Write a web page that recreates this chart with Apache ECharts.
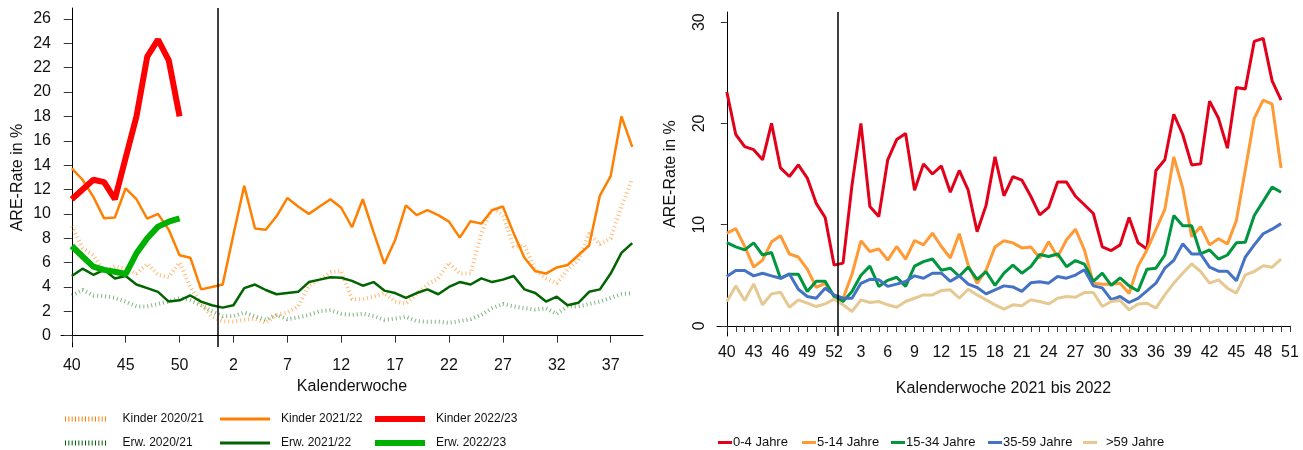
<!DOCTYPE html>
<html>
<head>
<meta charset="utf-8">
<script src="https://cdn.jsdelivr.net/npm/echarts@6/dist/echarts.min.js"></script>
<style>
  html, body { margin: 0; padding: 0; background: #fff; }
  #chart { width: 1303px; height: 450px; }
</style>
</head>
<body>
<div id="chart"></div>
<script>
// ---- Daten: linkes Diagramm (Saison KW 40 bis KW 39, 2020 mit KW 53) ----
var weeksLeft = [40, 41, 42, 43, 44, 45, 46, 47, 48, 49, 50, 51, 52, 53,
  1, 2, 3, 4, 5, 6, 7, 8, 9, 10, 11, 12, 13, 14, 15, 16, 17, 18, 19, 20,
  21, 22, 23, 24, 25, 26, 27, 28, 29, 30, 31, 32, 33, 34, 35, 36, 37, 38, 39];
var leftXLabels = [40, 45, 50, 2, 7, 12, 17, 22, 27, 32, 37];
var leftYLabels = [0, 2, 4, 6, 8, 10, 12, 14, 16, 18, 20, 22, 24, 26];

var kinder2021 = [9.0, 7.2, 6.6, 5.25, 5.7, 5.5, 5.1, 5.9, 5.0, 4.8, 6.0, 4.0, 2.6, 1.55,
  1.2, 1.15, 1.3, 1.4, 1.05, 1.7, 1.9, 2.4, 4.1, 4.6, 5.2,
  5.3, 3.0, 3.0, 3.2, 3.5, 2.8, 2.65, 3.4, 4.2, 4.7,
  6.0, 5.1, 5.1, 8.4, 10.5, 9.9, 7.3, 7.4, 5.4, 4.7,
  4.3, 5.4, 6.2, 8.4, 7.5, 8.0, 10.6, 12.9];
var erw2021 = [3.3, 3.75, 3.3, 3.25, 3.1, 2.8, 2.4, 2.4, 2.6, 2.8, 3.1, 2.9, 2.5, 2.0,
  1.6, 1.6, 1.9, 1.6, 1.3, 1.7, 1.35, 1.5, 1.7, 2.0, 2.1,
  1.8, 1.7, 1.8, 1.6, 1.3, 1.4, 1.55, 1.2, 1.15, 1.15,
  1.05, 1.2, 1.35, 1.7, 2.25, 2.6, 2.4, 2.25, 2.15, 2.25,
  1.8, 2.4, 2.4, 2.6, 2.8, 3.1, 3.4, 3.5];
var kinder2122 = [13.74, 12.8, 11.4, 9.63, 9.7, 12.1, 11.2, 9.6, 10.0, 8.7, 6.6, 6.4, 3.8, 4.0,
  4.2, 8.3, 12.3, 8.8, 8.7, 9.8, 11.3, 10.6, 10.0, 10.6, 11.2,
  10.5, 8.9, 11.2, 8.5, 5.9, 7.85, 10.7, 9.9, 10.3, 9.9,
  9.36, 8.05, 9.4, 9.2, 10.3, 10.6, 8.4, 6.4, 5.3, 5.1,
  5.6, 5.8, 6.6, 7.4, 11.5, 13.1, 18.0, 15.5];
var erw2122 = [4.9, 5.5, 5.0, 5.4, 4.7, 4.9, 4.2, 3.9, 3.6, 2.8, 2.9, 3.3, 2.8, 2.5,
  2.3, 2.5, 3.9, 4.2, 3.75, 3.4, 3.5, 3.6, 4.4, 4.6, 4.8,
  4.75, 4.5, 4.1, 4.4, 3.7, 3.5, 3.1, 3.5, 3.8, 3.4,
  4.0, 4.4, 4.2, 4.7, 4.4, 4.6, 4.9, 3.8, 3.5, 2.8,
  3.2, 2.5, 2.7, 3.6, 3.8, 5.1, 6.8, 7.6];
var kinder2223 = [11.2, 12.0, 12.8, 12.6, 11.2, 14.6, 18.0, 22.9, 24.3, 22.6, 18.0];
var erw2223 = [7.36, 6.5, 5.67, 5.4, 5.25, 5.06, 6.76, 8.0, 8.95, 9.36, 9.63];

// ---- Daten: rechtes Diagramm (KW 40/2021 bis KW 50/2022) ----
var weeksRight = [40, 41, 42, 43, 44, 45, 46, 47, 48, 49, 50, 51, 52,
  1, 2, 3, 4, 5, 6, 7, 8, 9, 10, 11, 12, 13, 14, 15, 16, 17, 18, 19, 20,
  21, 22, 23, 24, 25, 26, 27, 28, 29, 30, 31, 32, 33, 34, 35, 36, 37, 38, 39, 40,
  41, 42, 43, 44, 45, 46, 47, 48, 49, 50, 51];
var rightXLabels = [40, 43, 46, 49, 52, 3, 6, 9, 12, 15, 18, 21, 24, 27, 30, 33, 36, 39, 42, 45, 48, 51];
var rightYLabels = [0, 10, 20, 30];

var age0_4 = [23.1, 18.9, 17.7, 17.4, 16.4, 20.0, 15.6, 14.75, 15.9, 14.6, 12.1, 10.7, 6.0,
  6.2, 13.9, 20.0, 11.8, 10.8, 16.4, 18.4, 19.0, 13.4, 16.0,
  15.0, 15.8, 13.2, 15.35, 13.4, 9.3, 11.9, 16.7, 12.85, 14.75,
  14.4, 12.8, 10.97, 11.7, 14.2, 14.2, 12.8, 11.96, 11.1, 7.8,
  7.44, 8.0, 10.7, 8.2, 7.6, 15.35, 16.4, 20.9, 18.9, 15.9,
  16.0, 22.2, 20.5, 17.55, 23.55, 23.4, 28.1, 28.4, 24.2, 22.3];
var age5_14 = [9.15, 9.6, 7.85, 5.8, 6.5, 8.3, 8.9, 7.1, 6.8, 5.6, 3.8, 4.2, 2.9,
  2.7, 5.1, 8.4, 7.35, 7.6, 6.5, 7.84, 6.6, 8.43, 8.0,
  9.16, 7.84, 6.7, 9.1, 6.0, 4.2, 5.5, 7.8, 8.4, 8.2,
  7.7, 7.8, 6.7, 8.3, 6.8, 8.5, 9.55, 7.5, 4.2, 4.1,
  4.1, 4.2, 3.2, 5.9, 7.5, 9.5, 11.5, 16.7, 13.6, 8.8,
  9.8, 8.0, 8.6, 8.1, 10.4, 15.4, 20.5, 22.3, 21.9, 15.6];
var age15_34 = [8.23, 7.8, 7.5, 8.2, 7.0, 7.25, 4.7, 5.1, 5.1, 3.4, 4.4, 4.4, 2.9,
  2.4, 3.4, 5.0, 5.9, 3.9, 4.5, 4.8, 3.9, 5.9, 6.35,
  6.6, 5.5, 5.7, 4.9, 5.8, 4.6, 5.35, 4.0, 5.2, 6.0,
  5.2, 5.85, 7.05, 6.85, 7.1, 5.85, 6.45, 6.1, 4.4, 5.2,
  4.0, 4.75, 3.95, 3.45, 5.6, 5.7, 7.0, 10.9, 9.9, 9.9,
  7.1, 7.5, 6.6, 7.0, 8.2, 8.25, 10.9, 12.3, 13.7, 13.2];
var age35_59 = [4.88, 5.47, 5.47, 4.94, 5.2, 4.94, 4.7, 5.13, 3.62, 2.9, 2.73, 3.72, 3.06,
  2.73, 2.73, 4.2, 4.6, 4.55, 3.9, 4.12, 4.38, 4.94, 4.7,
  5.2, 5.2, 4.4, 4.94, 4.12, 3.79, 3.16, 3.56, 3.95, 3.85,
  3.4, 4.25, 4.35, 4.22, 4.87, 4.71, 5.02, 5.55, 3.95, 3.75,
  2.6, 2.9, 2.31, 2.72, 3.45, 4.22, 5.7, 6.48, 8.1, 7.1,
  7.1, 5.8, 5.4, 5.4, 4.45, 6.8, 8.0, 9.1, 9.55, 10.1];
var age60plus = [2.41, 3.95, 2.5, 4.15, 2.08, 3.16, 3.33, 1.84, 2.57, 2.24, 1.91, 2.17, 2.64,
  2.08, 1.42, 2.57, 2.31, 2.41, 2.08, 1.84, 2.41, 2.73, 3.06,
  3.06, 3.49, 3.56, 2.73, 3.62, 3.06, 2.57, 2.08, 1.65, 2.08,
  1.98, 2.57, 2.41, 2.17, 2.73, 2.9, 2.83, 3.29, 3.29, 1.91,
  2.41, 2.5, 1.58, 2.17, 2.24, 1.75, 3.06, 4.22, 5.2, 6.13,
  5.37, 4.22, 4.55, 3.72, 3.23, 5.04, 5.37, 5.93, 5.8, 6.59];

// Position jedes Achsenlabels in der Wochenfolge suchen
function tickIndex(weeks, labels) {
  var out = [], from = 0;
  labels.forEach(function (w) {
    var i = weeks.indexOf(w, from);
    out.push(i);
    from = i + 1;
  });
  return out;
}
function pairs(arr) {
  return arr.map(function (v, i) { return [i, v]; });
}

var font = "'Liberation Sans', Arial, sans-serif";
var black = "#000";

var dots = "path://";
for (var k = 0; k < 13; k++) dots += "M" + (k * 4) + " 0h1.2v6h-1.2z";

function legendBox(name, left, top, icon, w, h, size, pad) {
  return {
    data: [name], left: left, top: top, icon: icon,
    itemWidth: w, itemHeight: h, selectedMode: false,
    textStyle: { fontFamily: font, fontSize: size, color: "#111", padding: [0, 0, 0, pad] }
  };
}

var chart = echarts.init(document.getElementById("chart"));

var option = {
  animation: false,
  grid: [
    { left: 61, right: 660, top: 8, bottom: 103 },
    { left: 717, right: 13, top: 12, bottom: 114 }
  ],
  xAxis: [
    {
      gridIndex: 0, type: "value", min: -1, max: 53,
      name: "Kalenderwoche", nameLocation: "middle", nameGap: 27,
      nameTextStyle: { fontFamily: font, fontSize: 16, color: "#111" },
      axisLine: { lineStyle: { color: black, width: 1 } },
      axisTick: { length: 7, lineStyle: { color: "#333" }, customValues: tickIndex(weeksLeft, leftXLabels) },
      axisLabel: {
        customValues: tickIndex(weeksLeft, leftXLabels), margin: 11,
        fontFamily: font, fontSize: 16, color: "#111",
        formatter: function (v) { return weeksLeft[v]; }
      },
      splitLine: { show: false }
    },
    {
      gridIndex: 1, type: "value", min: -1.1, max: 63,
      name: "Kalenderwoche 2021 bis 2022", nameLocation: "middle", nameGap: 45,
      nameTextStyle: { fontFamily: font, fontSize: 16, color: "#111" },
      axisLine: { lineStyle: { color: black, width: 1 } },
      axisTick: { length: 6, lineStyle: { color: "#333" }, customValues: weeksRight.map(function (w, i) { return i; }) },
      axisLabel: {
        customValues: tickIndex(weeksRight, rightXLabels), margin: 9,
        fontFamily: font, fontSize: 16, color: "#111",
        formatter: function (v) { return weeksRight[v]; }
      },
      splitLine: { show: false }
    }
  ],
  yAxis: [
    {
      gridIndex: 0, type: "value", min: -0.93, max: 26.9,
      name: "ARE-Rate in %", nameLocation: "middle", nameGap: 35,
      nameTextStyle: { fontFamily: font, fontSize: 16, color: "#111" },
      axisLine: { show: true, lineStyle: { color: black, width: 1 } },
      axisTick: { show: true, length: 8, lineStyle: { color: "#333" }, customValues: leftYLabels },
      axisLabel: { customValues: leftYLabels, margin: 10, fontFamily: font, fontSize: 16, color: "#111" },
      splitLine: { show: false }
    },
    {
      gridIndex: 1, type: "value", min: -1, max: 31,
      name: "ARE-Rate in %", nameLocation: "middle", nameGap: 38,
      nameTextStyle: { fontFamily: font, fontSize: 16, color: "#111" },
      axisLine: { show: true, lineStyle: { color: black, width: 1 } },
      axisTick: { show: true, length: 6, lineStyle: { color: "#333" }, customValues: rightYLabels },
      axisLabel: { customValues: rightYLabels, rotate: 90, margin: 9, fontFamily: font, fontSize: 16, color: "#111" },
      splitLine: { show: false }
    }
  ],
  legend: [
    legendBox("Kinder 2020/21", 60, 408, dots, 48, 5, 12, 8),
    legendBox("Erw. 2020/21", 60, 432, dots, 48, 5, 12, 8),
    legendBox("Kinder 2021/22", 215, 408, "rect", 50, 3, 12, 6),
    legendBox("Erw. 2021/22", 215, 432, "rect", 50, 3, 12, 6),
    legendBox("Kinder 2022/23", 370, 408, "rect", 50, 6, 12, 6),
    legendBox("Erw. 2022/23", 370, 432, "rect", 50, 6, 12, 6),
    legendBox("0-4 Jahre", 713, 431, "rect", 14, 3, 13, -4),
    legendBox("5-14 Jahre", 797, 431, "rect", 14, 3, 13, -4),
    legendBox("15-34 Jahre", 886, 431, "rect", 14, 3, 13, -4),
    legendBox("35-59 Jahre", 983, 431, "rect", 14, 3, 13, -4),
    legendBox(">59 Jahre", 1078, 431, "rect", 14, 3, 13, 4)
  ],
  series: [
    {
      name: "Kinder 2020/21", type: "line", xAxisIndex: 0, yAxisIndex: 0, data: pairs(kinder2021),
      symbol: "none", color: "#FF7F00",
      lineStyle: { color: "rgba(255,127,0,0.55)", width: 4, type: [1, 3] }
    },
    {
      name: "Erw. 2020/21", type: "line", xAxisIndex: 0, yAxisIndex: 0, data: pairs(erw2021),
      symbol: "none", color: "#006400",
      lineStyle: { color: "rgba(0,110,0,0.5)", width: 4, type: [1, 3] }
    },
    {
      name: "Kinder 2021/22", type: "line", xAxisIndex: 0, yAxisIndex: 0, data: pairs(kinder2122),
      symbol: "none", color: "#FF7F00", lineStyle: { width: 2.5 },
      markLine: {
        silent: true, symbol: ["none", "none"], label: { show: false },
        lineStyle: { color: black, type: "solid", width: 1.5 },
        data: [{ xAxis: 13.5 }]
      }
    },
    {
      name: "Erw. 2021/22", type: "line", xAxisIndex: 0, yAxisIndex: 0, data: pairs(erw2122),
      symbol: "none", color: "#006400", lineStyle: { width: 2.5 }
    },
    {
      name: "Kinder 2022/23", type: "line", xAxisIndex: 0, yAxisIndex: 0, data: pairs(kinder2223),
      symbol: "none", color: "#FF0000", lineStyle: { width: 6 }
    },
    {
      name: "Erw. 2022/23", type: "line", xAxisIndex: 0, yAxisIndex: 0, data: pairs(erw2223),
      symbol: "none", color: "#00B000", lineStyle: { width: 6 }
    },
    {
      name: "0-4 Jahre", type: "line", xAxisIndex: 1, yAxisIndex: 1, data: pairs(age0_4),
      symbol: "none", color: "#E2001A", lineStyle: { width: 3 },
      markLine: {
        silent: true, symbol: ["none", "none"], label: { show: false },
        lineStyle: { color: black, type: "solid", width: 1.5 },
        data: [{ xAxis: 12.45 }]
      }
    },
    {
      name: "5-14 Jahre", type: "line", xAxisIndex: 1, yAxisIndex: 1, data: pairs(age5_14),
      symbol: "none", color: "#FF9A35", lineStyle: { width: 3 }
    },
    {
      name: "15-34 Jahre", type: "line", xAxisIndex: 1, yAxisIndex: 1, data: pairs(age15_34),
      symbol: "none", color: "#00963F", lineStyle: { width: 3 }
    },
    {
      name: "35-59 Jahre", type: "line", xAxisIndex: 1, yAxisIndex: 1, data: pairs(age35_59),
      symbol: "none", color: "#4472C4", lineStyle: { width: 3 }
    },
    {
      name: ">59 Jahre", type: "line", xAxisIndex: 1, yAxisIndex: 1, data: pairs(age60plus),
      symbol: "none", color: "#E6C892", lineStyle: { width: 3 }
    }
  ]
};

chart.setOption(option);
</script>
</body>
</html>
